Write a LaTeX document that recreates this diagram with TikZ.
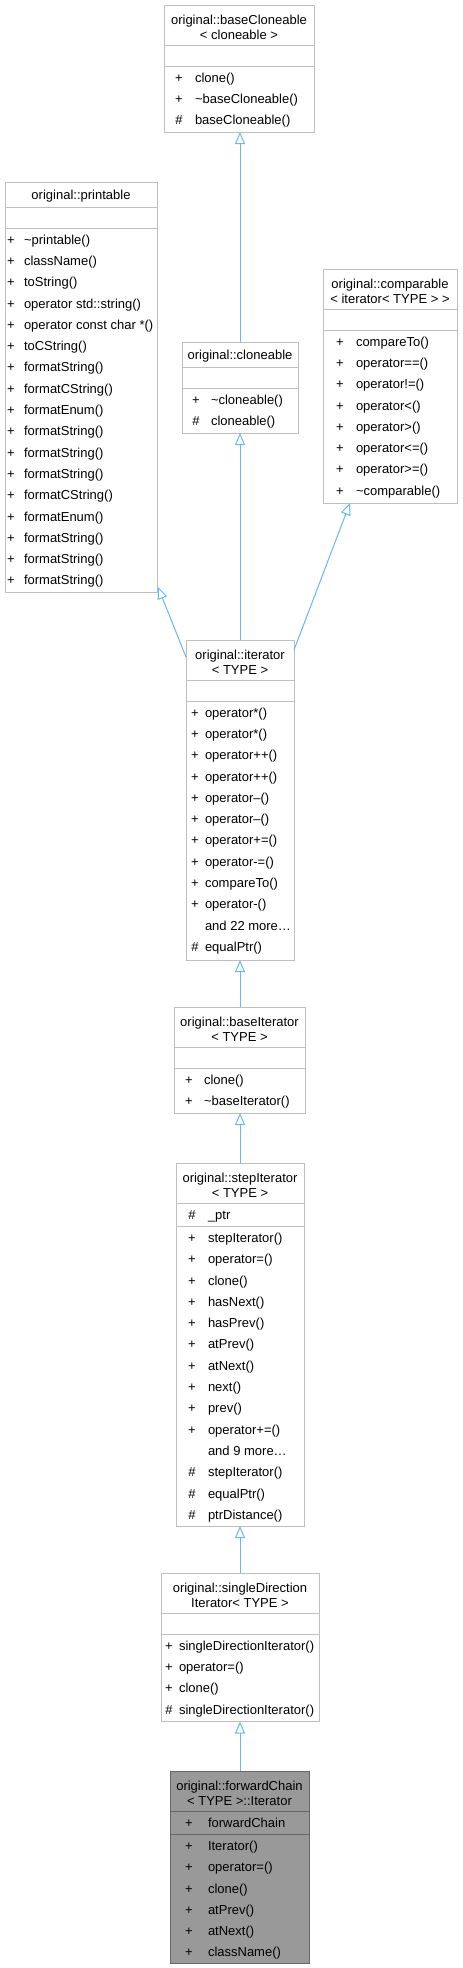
\documentclass[tikz,border=0pt]{standalone}
\usepackage{fontspec}
\setmainfont{Liberation Sans}
\usetikzlibrary{arrows.meta,calc}
\definecolor{edgeblue}{RGB}{99,184,255}
\definecolor{boxline}{RGB}{191,191,191}
\definecolor{fwdfill}{RGB}{153,153,153}
\definecolor{fwdline}{RGB}{102,102,102}
\tikzset{
  clsbox/.style={draw=boxline, line width=1pt, inner sep=0pt, outer sep=0pt, anchor=north west, fill=white},
  fwdbox/.style={clsbox, draw=fwdline, fill=fwdfill},
  sepline/.style={draw=boxline, line width=1pt},
  fwdsep/.style={draw=fwdline, line width=1pt},
  txt/.style={inner sep=0pt, outer sep=0pt, font=\fontsize{13}{15}\selectfont, text=black},
  inh/.style={draw=edgeblue, line width=1pt, -{Triangle[length=12pt,width=10pt,fill=white]}}
}
% member row: name, xsym, xname, section top, index, symbol, text
\newcommand\mrow[7]{%
  \ifx\relax#6\relax\else\node[txt,anchor=base] (#1s) at (#2,{#4+16.15+21.3*#5}) {#6};\fi
  \node[txt,anchor=base west] (#1) at (#3,{#4+16.15+21.3*#5}) {#7};}
% two-line header: name, cx, top, line1, line2
\newcommand\hdtwo[5]{%
  \node[txt,anchor=base] (#1a) at (#2,{#3+19}) {#4};
  \node[txt,anchor=base] (#1b) at (#2,{#3+34}) {#5};}
% one-line header
\newcommand\hdone[4]{%
  \node[txt,anchor=base] (#1a) at (#2,{#3+17}) {#4};}
\begin{document}
\begin{tikzpicture}[x=1pt,y=-1pt]
\fill[white] (0,0) rectangle (463,1968);
\useasboundingbox (0,0) rectangle (463,1968);

% ---------- baseCloneable ----------
\node[clsbox, minimum width=150pt, minimum height=127pt] (baseCloneable) at (164,5) {};
\draw[sepline] (164,45) -- (314,45);
\draw[sepline] (164,66) -- (314,66);
\hdtwo{bcH}{239}{5}{original::baseCloneable}{< cloneable >}
\mrow{bc1}{179}{195}{66}{0}{+}{clone()}
\mrow{bc2}{179}{195}{66}{1}{+}{\textasciitilde baseCloneable()}
\mrow{bc3}{179}{195}{66}{2}{\#}{baseCloneable()}

% ---------- printable ----------
\node[clsbox, minimum width=152pt, minimum height=410pt] (printable) at (5,182) {};
\draw[sepline] (5,207) -- (157,207);
\draw[sepline] (5,228) -- (157,228);
\hdone{prH}{81}{182}{original::printable}
\mrow{pr1}{11}{24}{228}{0}{+}{\textasciitilde printable()}
\mrow{pr2}{11}{24}{228}{1}{+}{className()}
\mrow{pr3}{11}{24}{228}{2}{+}{toString()}
\mrow{pr4}{11}{24}{228}{3}{+}{operator std::string()}
\mrow{pr5}{11}{24}{228}{4}{+}{operator const char *()}
\mrow{pr6}{11}{24}{228}{5}{+}{toCString()}
\mrow{pr7}{11}{24}{228}{6}{+}{formatString()}
\mrow{pr8}{11}{24}{228}{7}{+}{formatCString()}
\mrow{pr9}{11}{24}{228}{8}{+}{formatEnum()}
\mrow{pr10}{11}{24}{228}{9}{+}{formatString()}
\mrow{pr11}{11}{24}{228}{10}{+}{formatString()}
\mrow{pr12}{11}{24}{228}{11}{+}{formatString()}
\mrow{pr13}{11}{24}{228}{12}{+}{formatCString()}
\mrow{pr14}{11}{24}{228}{13}{+}{formatEnum()}
\mrow{pr15}{11}{24}{228}{14}{+}{formatString()}
\mrow{pr16}{11}{24}{228}{15}{+}{formatString()}
\mrow{pr17}{11}{24}{228}{16}{+}{formatString()}

% ---------- cloneable ----------
\node[clsbox, minimum width=116pt, minimum height=91pt] (cloneable) at (182,342) {};
\draw[sepline] (182,367) -- (298,367);
\draw[sepline] (182,388) -- (298,388);
\hdone{clH}{240}{342}{original::cloneable}
\mrow{cl1}{196}{211}{388}{0}{+}{\textasciitilde cloneable()}
\mrow{cl2}{196}{211}{388}{1}{\#}{cloneable()}

% ---------- comparable ----------
\node[clsbox, minimum width=134pt, minimum height=234pt] (comparable) at (323,269) {};
\draw[sepline] (323,309) -- (457,309);
\draw[sepline] (323,330) -- (457,330);
\hdtwo{cmH}{390}{269}{original::comparable}{< iterator< TYPE > >}
\mrow{cm1}{340}{356}{330}{0}{+}{compareTo()}
\mrow{cm2}{340}{356}{330}{1}{+}{operator==()}
\mrow{cm3}{340}{356}{330}{2}{+}{operator!=()}
\mrow{cm4}{340}{356}{330}{3}{+}{operator<()}
\mrow{cm5}{340}{356}{330}{4}{+}{operator>()}
\mrow{cm6}{340}{356}{330}{5}{+}{operator<=()}
\mrow{cm7}{340}{356}{330}{6}{+}{operator>=()}
\mrow{cm8}{340}{356}{330}{7}{+}{\textasciitilde comparable()}

% ---------- iterator ----------
\node[clsbox, minimum width=108pt, minimum height=320pt] (iterator) at (186,640) {};
\draw[sepline] (186,680) -- (294,680);
\draw[sepline] (186,701) -- (294,701);
\hdtwo{itH}{240}{640}{original::iterator}{< TYPE >}
\mrow{it1}{195}{205}{701}{0}{+}{operator*()}
\mrow{it2}{195}{205}{701}{1}{+}{operator*()}
\mrow{it3}{195}{205}{701}{2}{+}{operator++()}
\mrow{it4}{195}{205}{701}{3}{+}{operator++()}
\mrow{it5}{195}{205}{701}{4}{+}{operator--()}
\mrow{it6}{195}{205}{701}{5}{+}{operator--()}
\mrow{it7}{195}{205}{701}{6}{+}{operator+=()}
\mrow{it8}{195}{205}{701}{7}{+}{operator-=()}
\mrow{it9}{195}{205}{701}{8}{+}{compareTo()}
\mrow{it10}{195}{205}{701}{9}{+}{operator-()}
\mrow{it11}{195}{205}{701}{10}{}{and 22 more\dots}
\mrow{it12}{195}{205}{701}{11}{\#}{equalPtr()}

% ---------- baseIterator ----------
\node[clsbox, minimum width=131pt, minimum height=106pt] (baseIterator) at (174,1007) {};
\draw[sepline] (174,1047) -- (305,1047);
\draw[sepline] (174,1068) -- (305,1068);
\hdtwo{biH}{239.5}{1007}{original::baseIterator}{< TYPE >}
\mrow{bi1}{189}{204}{1068}{0}{+}{clone()}
\mrow{bi2}{189}{204}{1068}{1}{+}{\textasciitilde baseIterator()}

% ---------- stepIterator ----------
\node[clsbox, minimum width=128pt, minimum height=363pt] (stepIterator) at (176,1163) {};
\draw[sepline] (176,1203) -- (304,1203);
\draw[sepline] (176,1226.3) -- (304,1226.3);
\hdtwo{siH}{240}{1163}{original::stepIterator}{< TYPE >}
\mrow{sa1}{192}{208}{1203}{0}{\#}{\_ptr}
\mrow{si1}{192}{208}{1226.3}{0}{+}{stepIterator()}
\mrow{si2}{192}{208}{1226.3}{1}{+}{operator=()}
\mrow{si3}{192}{208}{1226.3}{2}{+}{clone()}
\mrow{si4}{192}{208}{1226.3}{3}{+}{hasNext()}
\mrow{si5}{192}{208}{1226.3}{4}{+}{hasPrev()}
\mrow{si6}{192}{208}{1226.3}{5}{+}{atPrev()}
\mrow{si7}{192}{208}{1226.3}{6}{+}{atNext()}
\mrow{si8}{192}{208}{1226.3}{7}{+}{next()}
\mrow{si9}{192}{208}{1226.3}{8}{+}{prev()}
\mrow{si10}{192}{208}{1226.3}{9}{+}{operator+=()}
\mrow{si11}{192}{208}{1226.3}{10}{}{and 9 more\dots}
\mrow{si12}{192}{208}{1226.3}{11}{\#}{stepIterator()}
\mrow{si13}{192}{208}{1226.3}{12}{\#}{equalPtr()}
\mrow{si14}{192}{208}{1226.3}{13}{\#}{ptrDistance()}

% ---------- singleDirectionIterator ----------
\node[clsbox, minimum width=158pt, minimum height=148.5pt] (singleDir) at (161,1573) {};
\draw[sepline] (161,1613) -- (319,1613);
\draw[sepline] (161,1634) -- (319,1634);
\hdtwo{sdH}{240}{1573}{original::singleDirection}{Iterator< TYPE >}
\mrow{sd1}{169}{179}{1634}{0}{+}{singleDirectionIterator()}
\mrow{sd2}{169}{179}{1634}{1}{+}{operator=()}
\mrow{sd3}{169}{179}{1634}{2}{+}{clone()}
\mrow{sd4}{169}{179}{1634}{3}{\#}{singleDirectionIterator()}

% ---------- forwardChain::Iterator ----------
\node[fwdbox, minimum width=139pt, minimum height=192pt] (fwdIter) at (170,1771) {};
\draw[fwdsep] (170,1811) -- (309,1811);
\draw[fwdsep] (170,1834.3) -- (309,1834.3);
\hdtwo{fwH}{239.5}{1771}{original::forwardChain}{< TYPE >::Iterator}
\mrow{fa1}{189}{208}{1811}{0}{+}{forwardChain}
\mrow{fw1}{189}{208}{1834.3}{0}{+}{Iterator()}
\mrow{fw2}{189}{208}{1834.3}{1}{+}{operator=()}
\mrow{fw3}{189}{208}{1834.3}{2}{+}{clone()}
\mrow{fw4}{189}{208}{1834.3}{3}{+}{atPrev()}
\mrow{fw5}{189}{208}{1834.3}{4}{+}{atNext()}
\mrow{fw6}{189}{208}{1834.3}{5}{+}{className()}

% ---------- inheritance edges ----------
\draw[inh] (cloneable.north) -- (cloneable.north |- baseCloneable.south);
\draw[inh] (iterator.north) -- (iterator.north |- cloneable.south);
\draw[inh] ($(iterator.north west)+(0,17)$) -- ($(printable.south east)+(1,-5)$);
\draw[inh] ($(iterator.north east)+(0,10)$) -- ($(comparable.south west)+(27,0)$);
\draw[inh] (baseIterator.north -| iterator.north) -- (iterator.south);
\draw[inh] (stepIterator.north) -- (stepIterator.north |- baseIterator.south);
\draw[inh] (singleDir.north) -- (singleDir.north |- stepIterator.south);
\draw[inh] (fwdIter.north -| singleDir.south) -- (singleDir.south);
\end{tikzpicture}
\end{document}
